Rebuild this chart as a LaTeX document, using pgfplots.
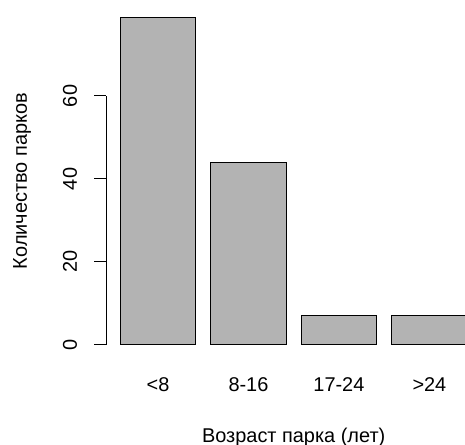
\documentclass[border=0pt]{standalone}
\usepackage{fontspec}
\setmainfont{Liberation Sans}
\usepackage{pgfplots}
\pgfplotsset{compat=1.18}
\usetikzlibrary{calc}
\definecolor{bargray}{HTML}{B3B3B3}
\begin{document}
\begin{tikzpicture}
\begin{axis}[
  at={(0,0)}, anchor=south west,
  scale only axis,
  width=358.6bp, height=354bp,
  xmin=0.016, xmax=4.772,
  ymin=-3.16, ymax=82.16,
  axis line style={draw=none},
  clip=false,
  xtick={0.7,1.9,3.1,4.3},
  xticklabels={{<8},{8-16},{17-24},{>24}},
  xtick style={draw=none},
  xticklabel style={anchor=center, yshift=-15bp, font=\fontsize{20}{24}\selectfont},
  ytick={0,20,40,60},
  ytick pos=left,
  tick align=outside,
  major tick length=12bp,
  ytick style={line width=0.9bp, black},
  yticklabel style={rotate=90, anchor=center, yshift=24.4bp, font=\fontsize{20}{24}\selectfont},
  /pgf/number format/assume math mode=true,
  ybar, bar width=1, bar shift=0pt,
]
\addplot[fill=bargray, draw=black, line width=0.9bp] coordinates {(0.7,79) (1.9,44) (3.1,7) (4.3,7)};
\draw[line width=0.9bp] (axis cs:0.016,0) -- (axis cs:0.016,60);
\end{axis}
\node[rotate=90, font=\fontsize{20}{24}\selectfont] at ($(current axis.south west)+(-84.4bp,177bp)$) {Количество парков};
\node[font=\fontsize{20}{24}\selectfont] at ($(current axis.south west)+(187.3bp,-79bp)$) {Возраст парка (лет)};
\pgfresetboundingbox
\path ($(current axis.south west)+(-106.4bp,-87bp)$) rectangle ($(current axis.south west)+(358.6bp,358bp)$);
\end{tikzpicture}
\end{document}
